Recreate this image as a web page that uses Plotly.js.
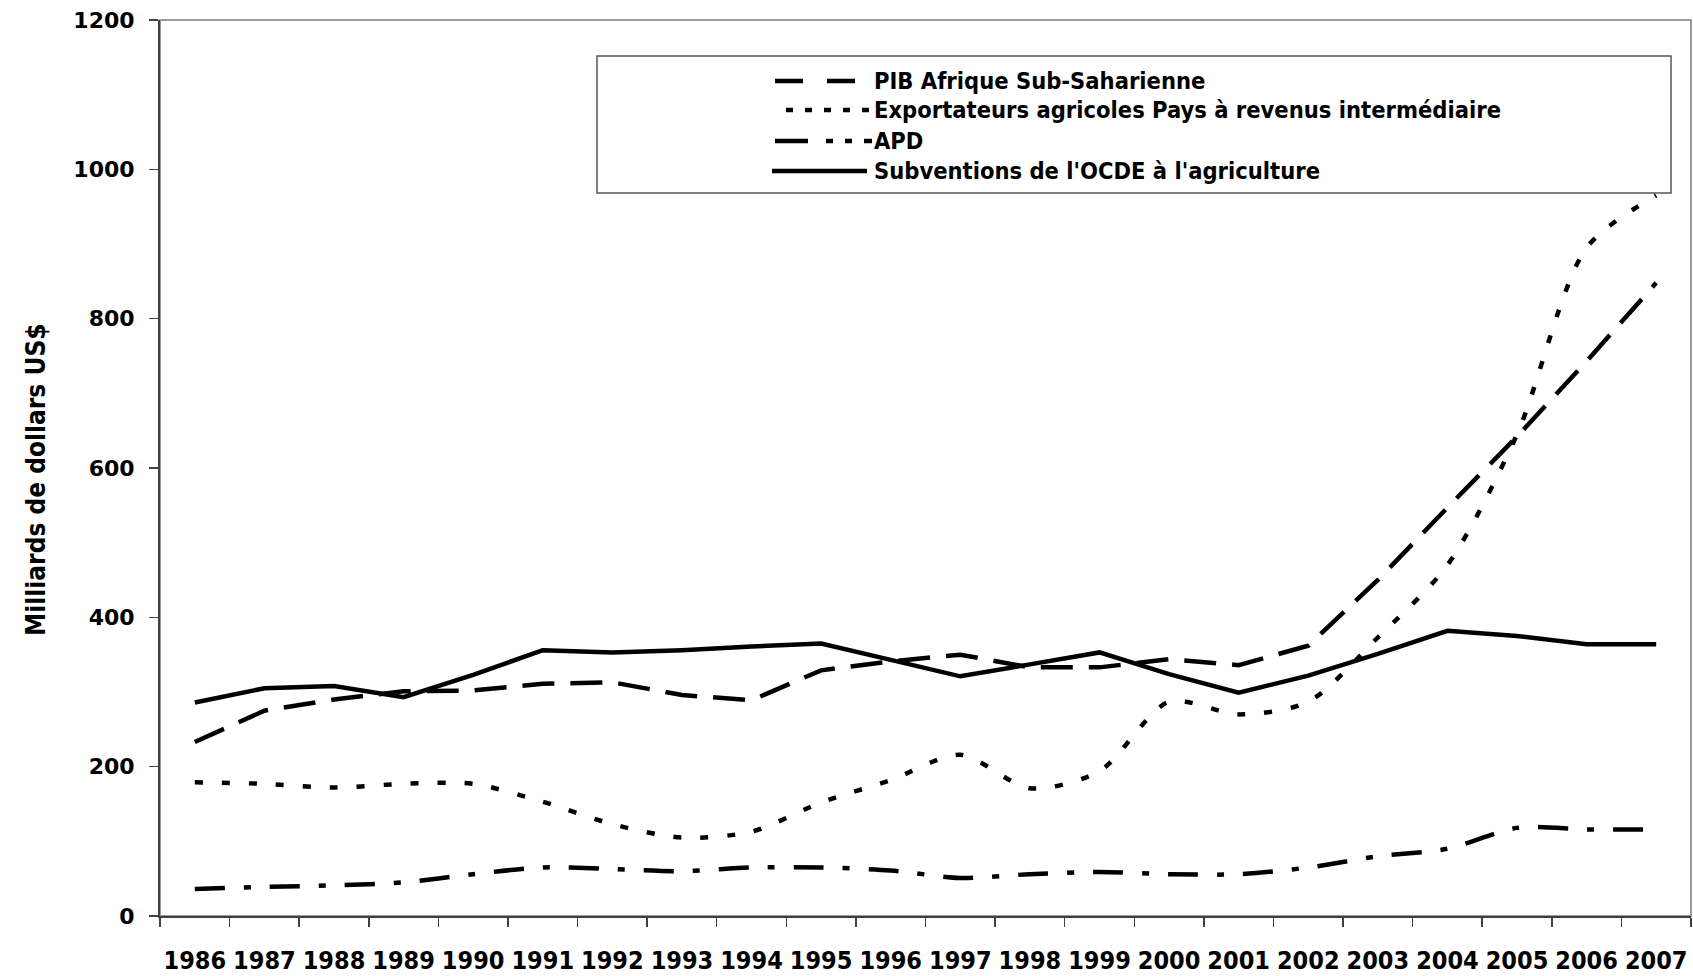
<!DOCTYPE html>
<html>
<head>
<meta charset="utf-8">
<script src="https://cdn.plot.ly/plotly-3.0.1.min.js"></script>
<style>
  html, body { margin: 0; padding: 0; background: #fff; }
  #graph { width: 1693px; height: 976px; }
</style>
</head>
<body>
<div id="graph"></div>
<script>
// values (milliards de dollars US$)
const years = ['1986', '1987', '1988', '1989', '1990', '1991', '1992', '1993', '1994', '1995', '1996',
               '1997', '1998', '1999', '2000', '2001', '2002', '2003', '2004', '2005', '2006', '2007'];
const pibAfrique = [233, 275, 290, 301, 302, 311, 313, 296, 289, 329, 341, 350, 333, 333, 344, 336, 362, 450, 547, 642, 743, 848];
const exportateurs = [179, 177, 172, 177, 177, 153, 123, 105, 113, 152, 182, 216, 171, 194, 287, 270, 287, 373, 470, 645, 895, 965];
const apd = [36, 39, 41, 45, 56, 65, 63, 60, 65, 65, 61, 51, 56, 59, 56, 56, 65, 80, 90, 118, 116, 116];
const subventionsOcde = [286, 305, 308, 293, 323, 356, 353, 356, 361, 365, 343, 321, 337, 353, 324, 299, 322, 351, 382, 375, 364, 364];

const seriesNames = ['PIB Afrique Sub-Saharienne',
                     "Exportateurs agricoles Pays à revenus intermédiaire",
                     'APD',
                     "Subventions de l'OCDE à l'agriculture"];
const yTitle = 'Milliards de dollars US$';

const W = 1693, H = 976;
const margin = {l: 160, r: 2, t: 20, b: 60};
const narrow = '"DejaVu Sans Condensed", "Liberation Sans Narrow", sans-serif';

// pixel -> paper helpers for the hand-drawn legend box
const plotW = W - margin.l - margin.r, plotH = H - margin.t - margin.b;
const px = x => (x - margin.l) / plotW;
const py = y => (H - margin.b - y) / plotH;

const W_LINE = 4.5;
const dashes = ['32px,16px', '8px,19px', '30px,19px,7px,19px', 'solid'];

let data = [
    {x: years, y: pibAfrique, line: {dash: dashes[0], shape: 'linear'}},
    {x: years, y: exportateurs, line: {dash: dashes[1], shape: 'spline', smoothing: 0.8}},
    {x: years, y: apd, line: {dash: dashes[2], shape: 'spline', smoothing: 0.8}},
    {x: years, y: subventionsOcde, line: {dash: dashes[3], shape: 'linear'}}
].map((t, i) => Object.assign(t, {
    type: 'scatter', mode: 'lines', name: seriesNames[i],
    line: Object.assign(t.line, {color: '#000', width: W_LINE}),
    hoverinfo: 'x+y+name'
}));

// legend: box, line samples, labels
let legendRows = [81, 110, 141, 171];
let sampleSpans = [[775, 855, '28px,24px'], [786, 872, '7px,12px'],
                   [775, 872, '33px,18px,7px,12px,7px,12px,8px'], [772, 867, 'solid']];
let shapes = [
    {type: 'rect', xref: 'paper', yref: 'paper', x0: 0, x1: 1, y0: 0, y1: 1,
     line: {color: '#9a9a9a', width: 2}, layer: 'below'},
    {type: 'rect', xref: 'paper', yref: 'paper', x0: px(597), x1: px(1671), y0: py(193), y1: py(56),
     line: {color: '#555', width: 1.5}, fillcolor: '#fff', layer: 'above'}
];
let annotations = [];
legendRows.forEach((y, i) => {
    let s = sampleSpans[i];
    shapes.push({type: 'line', xref: 'paper', yref: 'paper',
        x0: px(s[0]), x1: px(s[1]), y0: py(y), y1: py(y),
        line: {color: '#000', width: W_LINE, dash: s[2]}});
    annotations.push({xref: 'paper', yref: 'paper', x: px(872), y: py(y),
        xanchor: 'left', yanchor: 'middle', showarrow: false, text: seriesNames[i],
        font: {family: narrow, size: 23.5, color: '#000', weight: 'bold'}});
});
// y axis title, placed a bit below the plot centre like the original
annotations.push({xref: 'paper', yref: 'paper', x: px(36), y: py(480),
    xanchor: 'center', yanchor: 'middle', textangle: -90, showarrow: false, text: yTitle,
    font: {family: narrow, size: 26, color: '#000', weight: 'bold'}});

let layout = {
    width: W, height: H, margin: margin,
    paper_bgcolor: '#fff', plot_bgcolor: '#fff',
    showlegend: false,
    xaxis: {
        type: 'category', tickson: 'boundaries', tickangle: 0,
        range: [-0.5, years.length - 0.5],
        ticks: 'outside', ticklen: 9, tickwidth: 1.5, tickcolor: '#404040',
        showline: true, linecolor: '#404040', linewidth: 2,
        showgrid: false, zeroline: false,
        ticklabelstandoff: 21,
        tickfont: {family: narrow, size: 25, color: '#000', weight: 'bold'}
    },
    yaxis: {
        range: [0, 1200], dtick: 200,
        ticks: 'outside', ticklen: 9, tickwidth: 1.5, tickcolor: '#404040',
        showline: true, linecolor: '#404040', linewidth: 2,
        showgrid: false, zeroline: false,
        ticklabelstandoff: 10,
        tickfont: {family: '"DejaVu Sans", Verdana, sans-serif', size: 22, color: '#000', weight: 'bold'}
    },
    shapes: shapes,
    annotations: annotations
};

Plotly.newPlot('graph', data, layout, {displayModeBar: false, staticPlot: true});
</script>
</body>
</html>
